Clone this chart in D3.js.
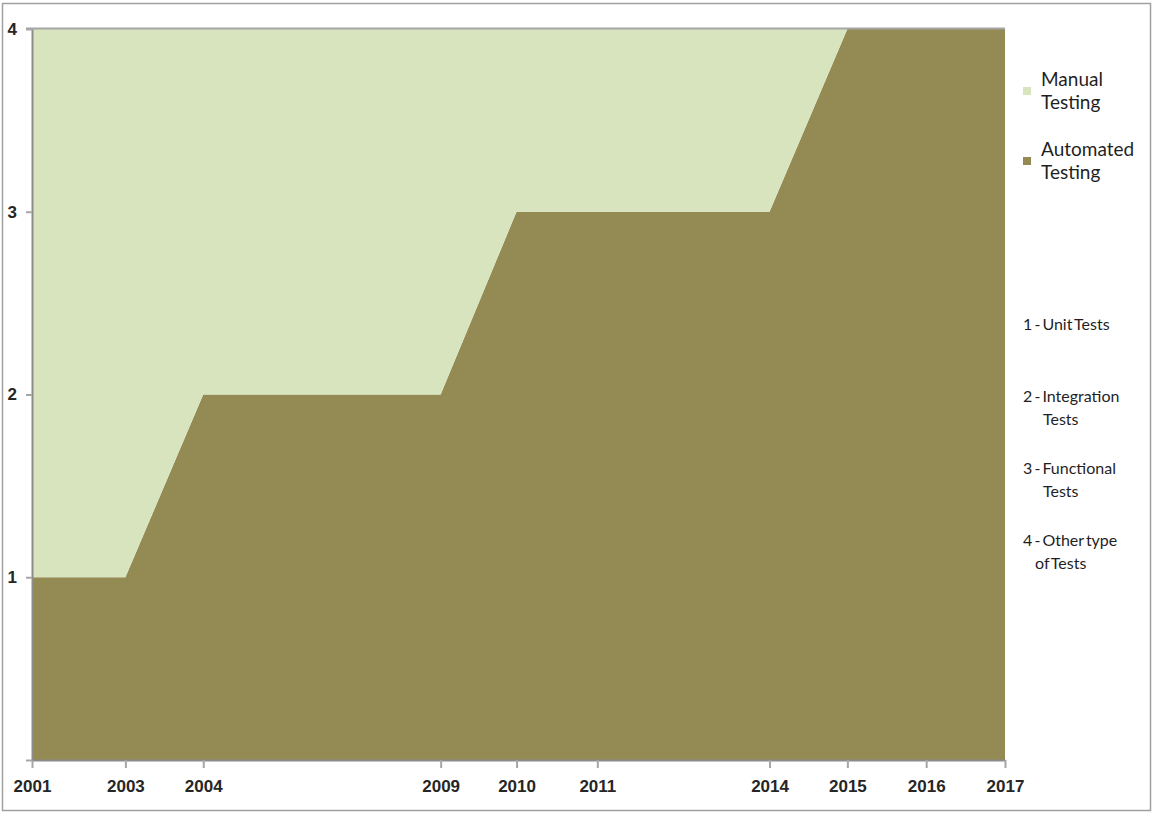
<!DOCTYPE html>
<html>
  <head>
    <meta charset="utf-8">
    <style>
      body { margin: 0; background: #fff; }
    </style>
  </head>
  <body>
    <svg width="1153" height="814"></svg>
    <script src="https://d3js.org/d3.v7.min.js"></script>
    <script>
      // categories and where they sit along the axis (percent of axis length)
      var years = ["2001", "2003", "2004", "2009", "2010", "2011", "2014", "2015", "2016", "2017"];
      var yearPos = [0, 9.6, 17.6, 42.0, 49.8, 58.1, 75.8, 83.8, 91.9, 100];
      var automated = [1, 1, 2, 2, 3, 3, 3, 4, 4, 4];
      var manual = [3, 3, 2, 2, 1, 1, 1, 0, 0, 0];
      var yTicks = [1, 2, 3, 4];
      var seriesNames = ["Manual Testing", "Automated Testing"];
      var notes = [["1 - Unit Tests"], ["2 - Integration", "Tests"], ["3 - Functional", "Tests"], ["4 - Other type", "of Tests"]];

      var data = years.map(function(y, i) {
        return {year: y, pos: yearPos[i], automated: automated[i], manual: manual[i]};
      });

      var svg = d3.select("svg");
      var margin = {top: 29, left: 32, right: 148, bottom: 54};
      var width = +svg.attr("width") - margin.left - margin.right;
      var height = +svg.attr("height") - margin.top - margin.bottom;

      // outer frame
      svg.append("rect")
        .attr("x", 2.5).attr("y", 3.5)
        .attr("width", 1148).attr("height", 807)
        .attr("fill", "none")
        .attr("stroke", "#a0a0a0")
        .attr("stroke-width", 1.5);

      var chart = svg.append("g")
        .attr("transform", "translate(" + margin.left + "," + margin.top + ")");

      var x = d3.scaleLinear().domain([0, 100]).range([0, width]);
      var y = d3.scaleLinear().domain([0, 4]).range([height, 0]);

      var stack = d3.stack().keys(["automated", "manual"]);
      var layers = stack(data);
      var colors = {automated: "#948a54", manual: "#d7e4bd"};

      var area = d3.area()
        .x(function(d) { return x(d.data.pos); })
        .y0(function(d) { return y(d[0]); })
        .y1(function(d) { return y(d[1]); });

      chart.selectAll(".layer")
        .data(layers)
        .enter().append("path")
        .attr("class", "layer")
        .attr("fill", function(d) { return colors[d.key]; })
        .attr("d", area);

      // top grid line
      chart.append("line")
        .attr("x1", -6).attr("x2", width)
        .attr("y1", y(4) - 0.5).attr("y2", y(4) - 0.5)
        .attr("stroke", "#a6a6a6").attr("stroke-width", 2);

      // x axis
      var xAxis = d3.axisBottom(x)
        .tickValues(yearPos)
        .tickSize(8)
        .tickSizeOuter(0)
        .tickFormat(function(d, i) { return years[i]; });

      var gx = chart.append("g")
        .attr("transform", "translate(0," + height + ")")
        .call(xAxis);
      gx.select(".domain").attr("stroke", "#8c8c8c").attr("stroke-width", 2);
      gx.selectAll(".tick line").attr("stroke", "#a6a6a6").attr("stroke-width", 2);
      gx.selectAll(".tick text")
        .attr("dy", "1.25em")
        .style("font-family", "'Liberation Sans', Arial, sans-serif")
        .style("font-size", "17px")
        .style("font-weight", "bold")
        .attr("fill", "#262626");

      // y axis
      var yAxis = d3.axisLeft(y)
        .tickValues([0].concat(yTicks))
        .tickSize(6)
        .tickSizeOuter(0)
        .tickFormat(function(d) { return d === 0 ? "" : d; });

      var gy = chart.append("g").call(yAxis);
      gy.select(".domain").attr("stroke", "#8c8c8c").attr("stroke-width", 2);
      gy.selectAll(".tick line").attr("stroke", "#a6a6a6").attr("stroke-width", 2);
      gy.selectAll(".tick text")
        .attr("x", -15)
        .style("font-family", "'Liberation Sans', Arial, sans-serif")
        .style("font-size", "17px")
        .style("font-weight", "bold")
        .attr("fill", "#262626");

      // legend
      var legendFont = "Lato, 'Open Sans', sans-serif";
      var legendKeys = ["manual", "automated"];
      var legend = svg.append("g").attr("transform", "translate(1023,0)");
      legendKeys.forEach(function(k, i) {
        var top = 87 + i * 70;
        legend.append("rect")
          .attr("x", 0).attr("y", top)
          .attr("width", 8).attr("height", 8)
          .attr("fill", colors[k]);
        var words = seriesNames[i].split(" ");
        words.forEach(function(w, j) {
          legend.append("text")
            .attr("x", 18).attr("y", top - 1 + j * 23)
            .style("font-family", legendFont)
            .style("font-size", "19px")
            .attr("fill", "#1f1f1f")
            .text(w);
        });
      });

      // notes about the y values
      var notesG = svg.append("g").attr("transform", "translate(1023,0)");
      notes.forEach(function(lines, i) {
        lines.forEach(function(t, j) {
          notesG.append("text")
            .attr("x", j === 0 ? 0 : (t === "Tests" ? 20 : 12))
            .attr("y", 330 + i * 72 + j * 23)
            .style("font-family", legendFont)
            .style("font-size", "16px")
            .style("word-spacing", "-2px")
            .attr("fill", "#1f1f1f")
            .text(t);
        });
      });
    </script>
  </body>
</html>
